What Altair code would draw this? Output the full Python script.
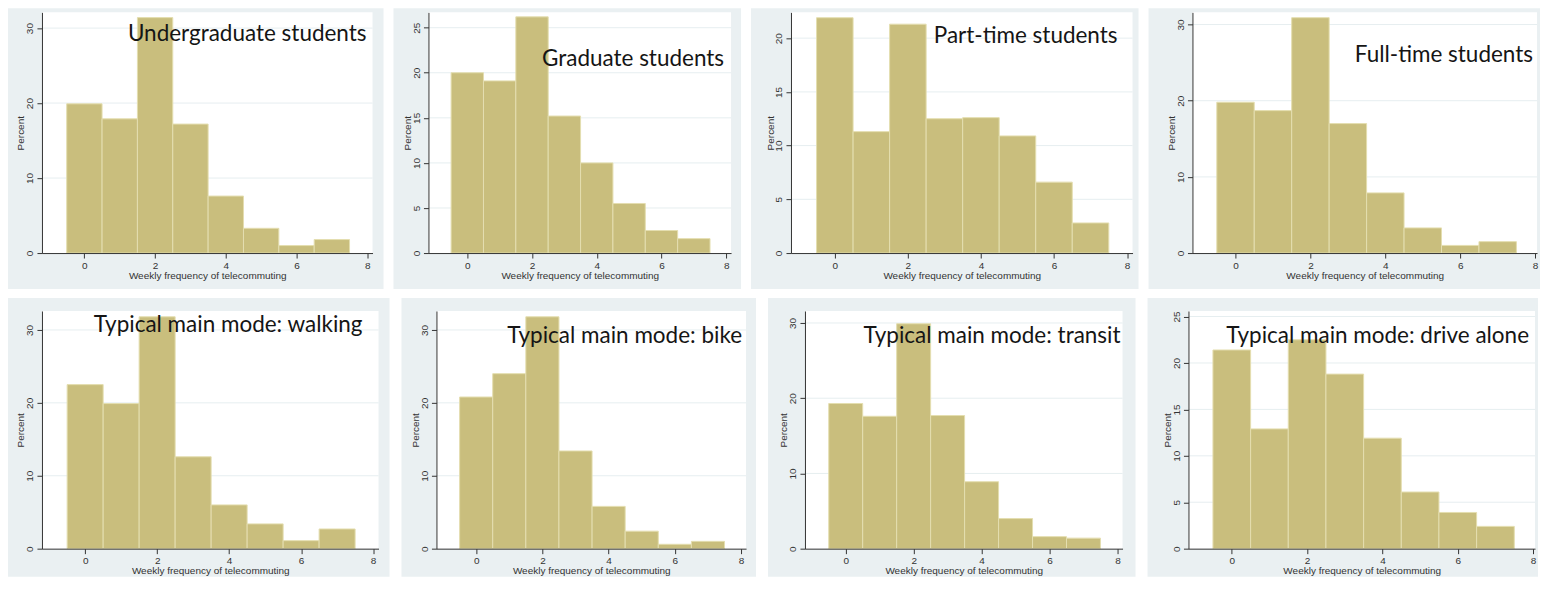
import altair as alt
import pandas as pd

# ---------------- data ----------------
bin_centers = [0, 1, 2, 3, 4, 5, 6, 7]
x_ticks = [0, 2, 4, 6, 8]

titles = [
    "Undergraduate students",
    "Graduate students",
    "Part-time students",
    "Full-time students",
    "Typical main mode: walking",
    "Typical main mode: bike",
    "Typical main mode: transit",
    "Typical main mode: drive alone",
]

undergrad = [19.9, 17.9, 31.4, 17.2, 7.6, 3.3, 1.0, 1.8]
graduate = [20.0, 19.1, 26.2, 15.2, 10.0, 5.5, 2.5, 1.6]
part_time = [21.9, 11.3, 21.3, 12.5, 12.6, 10.9, 6.6, 2.8]
full_time = [19.8, 18.7, 30.9, 17.0, 7.9, 3.3, 1.0, 1.5]
walking = [22.5, 19.9, 31.8, 12.6, 6.0, 3.4, 1.1, 2.7]
bike = [20.8, 24.0, 31.8, 13.4, 5.8, 2.4, 0.6, 1.0]
transit = [19.3, 17.6, 29.9, 17.7, 8.9, 4.0, 1.6, 1.4]
drive_alone = [21.4, 12.9, 22.5, 18.8, 11.9, 6.1, 3.9, 2.4]

y_ticks_a = [0, 10, 20, 30]
y_ticks_b = [0, 5, 10, 15, 20, 25]
y_ticks_c = [0, 5, 10, 15, 20]

# ---------------- style ----------------
GRAY = "#EAF0F2"
GRID = "#E6EEF0"
BAR = "#C9BE7D"
BAR_EDGE = "#E4DEB0"
AXC = "#333333"
SMALL_FONT = "Liberation Sans, Arial, sans-serif"
BIG_FONT = "Lato, Calibri, Open Sans, sans-serif"
SMALL_SIZE = 10


def panel(title, values, yticks, ymax, xdom, W, H, L, T, R, B, tb, tpad):
    bars_df = pd.DataFrame({
        "start": [c - 0.5 for c in bin_centers],
        "end": [c + 0.5 for c in bin_centers],
        "pct": values,
    })
    one = pd.DataFrame({"k": [0]})
    xs = alt.Scale(domain=xdom, nice=False, zero=False)
    ys = alt.Scale(domain=[0, ymax], nice=False, zero=False)

    x_axis = alt.Axis(values=x_ticks, title="Weekly frequency of telecommuting",
                      grid=False, tickSize=5, labelPadding=2, titlePadding=0, zindex=1,
                      domainColor=AXC, tickColor=AXC, labelColor=AXC, titleColor=AXC,
                      labelFont=SMALL_FONT, titleFont=SMALL_FONT,
                      labelFontSize=SMALL_SIZE, titleFontSize=SMALL_SIZE,
                      titleFontWeight="normal")
    y_axis = alt.Axis(values=yticks, title="Percent", grid=False, tickSize=5, zindex=1,
                      labelAngle=270, labelAlign="center", labelBaseline="bottom",
                      labelPadding=2, titlePadding=-1,
                      domainColor=AXC, tickColor=AXC, labelColor=AXC, titleColor=AXC,
                      labelFont=SMALL_FONT, titleFont=SMALL_FONT,
                      labelFontSize=SMALL_SIZE, titleFontSize=SMALL_SIZE,
                      titleFontWeight="normal")

    bg = alt.Chart(one).mark_rect(color=GRAY).encode(
        x=alt.value(-L), x2=alt.value(W + R), y=alt.value(-T), y2=alt.value(H + B))
    white = alt.Chart(one).mark_rect(color="white").encode(
        x=alt.value(0), x2=alt.value(W), y=alt.value(0), y2=alt.value(H))
    grid = alt.Chart(pd.DataFrame({"pct": yticks[1:]})).mark_rule(
        color=GRID, strokeWidth=1).encode(
        y=alt.Y("pct:Q", scale=ys, axis=y_axis))
    bars = alt.Chart(bars_df).mark_rect(
        color=BAR, stroke=BAR_EDGE, strokeWidth=1).encode(
        x=alt.X("start:Q", scale=xs, axis=x_axis),
        x2="end:Q",
        y=alt.Y("pct:Q", scale=ys, axis=y_axis),
        y2=alt.datum(0),
    )
    label = alt.Chart(pd.DataFrame({"t": [title]})).mark_text(
        font=BIG_FONT, fontSize=22.5, color="#151515", align="right",
        baseline="alphabetic").encode(
        x=alt.value(W - tpad), y=alt.value(tb), text="t:N")
    return alt.layer(bg, white, grid, bars, label).properties(width=W, height=H)


XD = [-1.2, 8.15]
XE = [-1.15, 8.05]

p1 = panel(titles[0], undergrad, y_ticks_a, 32.1, XD, 331, 241, 34, 4, 11, 36, 29, 6)
p2 = panel(titles[1], graduate, y_ticks_b, 26.7, XD, 303, 241, 35, 4, 10, 36, 54, 7)
p3 = panel(titles[2], part_time, y_ticks_c, 22.4, XD, 342, 241, 40, 4, 6, 36, 31, 15)
p4 = panel(titles[3], full_time, y_ticks_a, 31.6, XE, 345, 241, 44, 4, 3, 36, 50, 4)

p5 = panel(titles[4], walking, y_ticks_a, 32.6, XD, 337, 238, 34, 13, 11, 28, 21, 16)
p6 = panel(titles[5], bike, y_ticks_a, 32.6, XD, 310, 238, 35, 13, 10, 28, 32, 4)
p7 = panel(titles[6], transit, y_ticks_a, 31.6, XD, 318, 238, 37, 13, 13, 28, 32, 2)
p8 = panel(titles[7], drive_alone, y_ticks_b, 25.6, XE, 347, 238, 41, 13, 3, 28, 32, 6)

row1 = alt.hconcat(p1, p2, p3, p4, spacing=10)
row2 = alt.hconcat(p5, p6, p7, p8, spacing=12)

chart = alt.vconcat(row1, row2, spacing=9).configure_view(stroke=None).properties(
    padding=0, background="white")

chart.save("out.html", embed_options={"renderer": "svg", "actions": False})
